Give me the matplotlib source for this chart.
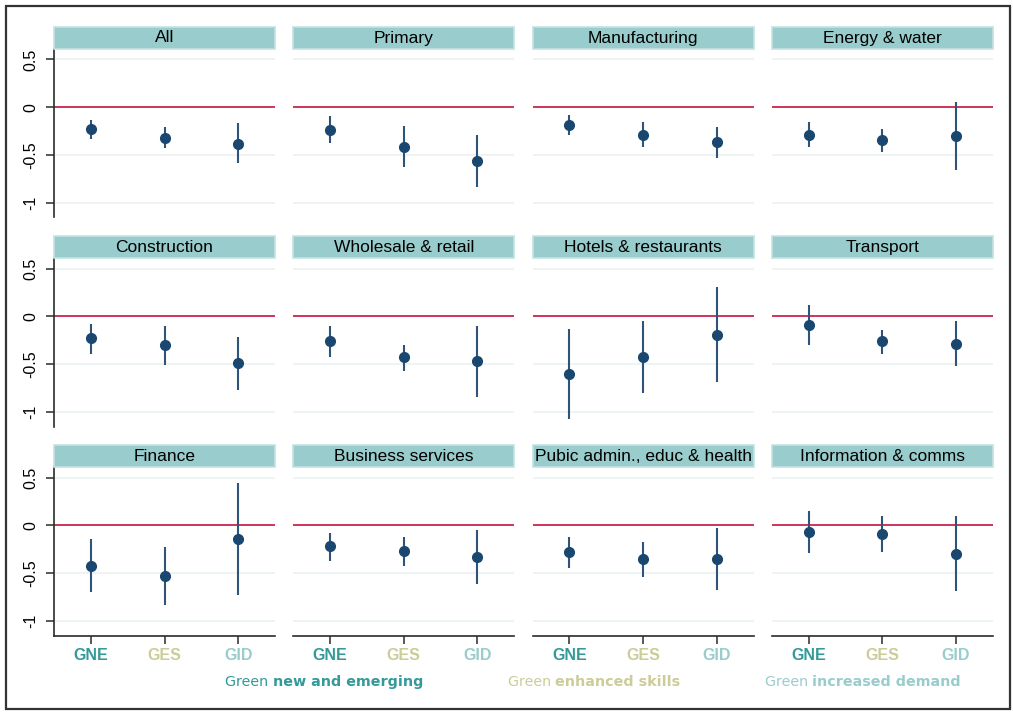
import matplotlib
matplotlib.use("Agg")
import matplotlib.pyplot as plt
from matplotlib.patches import Rectangle

# ---------------------------------------------------------------
# coefficients and 95% CIs by sector
# ---------------------------------------------------------------
sectors = ["All", "Primary", "Manufacturing", "Energy & water",
           "Construction", "Wholesale & retail", "Hotels & restaurants", "Transport",
           "Finance", "Business services", "Pubic admin., educ & health",
           "Information & comms"]

groups = ["GNE", "GES", "GID"]
group_colors = ["#339999", "#cccc99", "#99cccc"]
legend_plain = ["Green ", "Green ", "Green "]
legend_bold = ["new and emerging", "enhanced skills", "increased demand"]

gne_coef = [-0.23, -0.24, -0.19, -0.29, -0.23, -0.26, -0.60, -0.09, -0.42, -0.22, -0.28, -0.07]
gne_lo = [-0.33, -0.38, -0.29, -0.42, -0.39, -0.43, -1.07, -0.30, -0.70, -0.37, -0.45, -0.29]
gne_hi = [-0.13, -0.09, -0.08, -0.16, -0.08, -0.10, -0.13, 0.12, -0.14, -0.08, -0.12, 0.15]

ges_coef = [-0.32, -0.42, -0.29, -0.34, -0.30, -0.43, -0.42, -0.26, -0.53, -0.27, -0.35, -0.09]
ges_lo = [-0.43, -0.63, -0.42, -0.47, -0.51, -0.57, -0.80, -0.39, -0.83, -0.42, -0.54, -0.28]
ges_hi = [-0.21, -0.20, -0.16, -0.23, -0.10, -0.30, -0.05, -0.14, -0.23, -0.12, -0.17, 0.10]

gid_coef = [-0.39, -0.56, -0.37, -0.30, -0.49, -0.47, -0.19, -0.29, -0.14, -0.33, -0.35, -0.30]
gid_lo = [-0.59, -0.84, -0.53, -0.66, -0.77, -0.84, -0.69, -0.52, -0.73, -0.61, -0.68, -0.69]
gid_hi = [-0.17, -0.29, -0.21, 0.05, -0.22, -0.10, 0.31, -0.05, 0.44, -0.05, -0.03, 0.10]

yticks = [0.5, 0, -0.5, -1]
ytick_labels = ["0.5", "0", "-0.5", "-1"]

# ---------------------------------------------------------------
# styling
# ---------------------------------------------------------------
W, H = 1013, 713
NAVY = "#1a476f"
CI_COL = "#2f5479"
ZERO_COL = "#c8103e"
GRID_COL = "#e9f1f1"
STRIP_FILL = "#99cccc"
STRIP_EDGE = "#c4e1e1"
AXIS_COL = "#2b2b2b"

plt.rcParams["font.family"] = ["Liberation Sans", "DejaVu Sans"]

fig = plt.figure(figsize=(W / 100, H / 100), dpi=100)
fig.patch.set_facecolor("white")

def fx(px):
    return px / W

def fy(py):
    return 1 - py / H

col_left = [54, 293.3, 532.5, 771.7]
col_w = 221
row_top = [49, 258.3, 467.3]
panel_h = 168.5
strip_h = 22

# outer frame
fig.patches.append(Rectangle((fx(6), fy(709)), fx(1004), 703 / H, transform=fig.transFigure,
                             fill=False, edgecolor="#333333", linewidth=1.6, zorder=0))

xs = [1, 2, 3]
for i, name in enumerate(sectors):
    r, c = divmod(i, 4)
    left, top = col_left[c], row_top[r]
    ax = fig.add_axes([fx(left), fy(top + panel_h), fx(col_w), panel_h / H])
    ax.set_xlim(0.5, 3.5)
    ax.set_ylim(-1.156, 0.609)

    for yv in yticks:
        if yv != 0:
            ax.axhline(yv, color=GRID_COL, lw=1.1, zorder=1)
    ax.axhline(0, color=ZERO_COL, lw=1.2, zorder=2)

    coefs = [gne_coef[i], ges_coef[i], gid_coef[i]]
    lows = [gne_lo[i], ges_lo[i], gid_lo[i]]
    highs = [gne_hi[i], ges_hi[i], gid_hi[i]]
    ax.vlines(xs, lows, highs, color=CI_COL, lw=1.5, zorder=3)
    ax.plot(xs, coefs, "o", color=NAVY, ms=7, zorder=4)

    for s in ["top", "right"]:
        ax.spines[s].set_visible(False)
    ax.spines["left"].set_visible(c == 0)
    ax.spines["bottom"].set_visible(r == 2)
    for s in ["left", "bottom"]:
        ax.spines[s].set_color(AXIS_COL)
        ax.spines[s].set_linewidth(1.2)

    ax.set_yticks(yticks)
    if c == 0:
        ax.set_yticklabels(ytick_labels, rotation=90, va="center", fontsize=11.5)
        ax.tick_params(axis="y", length=6, width=1.1, color=AXIS_COL, pad=5)
    else:
        ax.tick_params(axis="y", left=False, labelleft=False)

    ax.set_xticks(xs)
    if r == 2:
        ax.set_xticklabels(groups, fontsize=11.5, fontweight="bold")
        for lab, col in zip(ax.get_xticklabels(), group_colors):
            lab.set_color(col)
        ax.tick_params(axis="x", length=6, width=1.1, color=AXIS_COL, pad=2.5)
    else:
        ax.tick_params(axis="x", bottom=False, labelbottom=False)
    ax.set_facecolor("none")

    # strip title
    sax = fig.add_axes([fx(left), fy(top), fx(col_w), strip_h / H])
    sax.set_xlim(0, 1)
    sax.set_ylim(0, 1)
    sax.add_patch(Rectangle((0, 0), 1, 1, facecolor=STRIP_FILL, edgecolor=STRIP_EDGE,
                            linewidth=1.2, transform=sax.transAxes, clip_on=False))
    sax.text(0.5, 0.5, name, ha="center", va="center", fontsize=12.5, color="black")
    sax.axis("off")

# legend built from two text pieces: plain "Green " + bold description
renderer = fig.canvas.get_renderer()
legend_cx = [324, 594, 863]
legend_y = fy(682)
for cx, plain, bold, col in zip(legend_cx, legend_plain, legend_bold, group_colors):
    t1 = fig.text(0, legend_y, plain, fontsize=10.3, color=col, va="center",
                  family="DejaVu Sans")
    t2 = fig.text(0, legend_y, bold, fontsize=10.3, color=col, va="center",
                  family="DejaVu Sans", fontweight="bold")
    w1 = t1.get_window_extent(renderer).width
    w2 = t2.get_window_extent(renderer).width
    x0 = cx - (w1 + w2) / 2
    t1.set_x(fx(x0))
    t2.set_x(fx(x0 + w1))

fig.savefig("out.png", dpi=100, facecolor="white")
